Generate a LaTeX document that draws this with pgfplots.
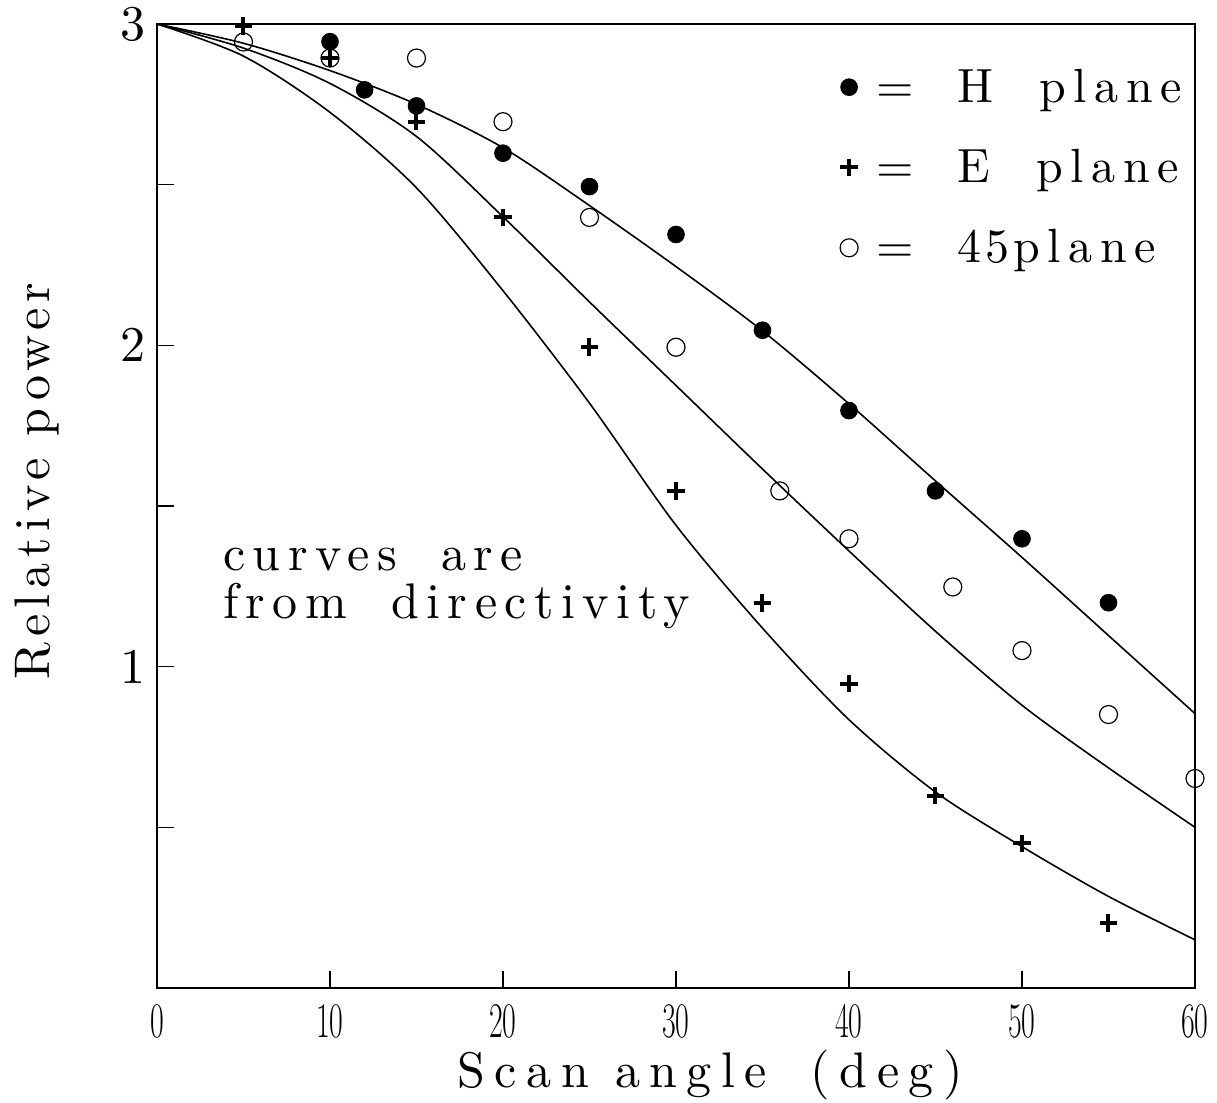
\documentclass[border=0pt]{standalone}
\usepackage{fontspec}
\setmainfont{lmroman10-regular.otf}[BoldFont=lmroman10-bold.otf, ItalicFont=lmroman10-italic.otf]
\usepackage{graphicx}
\usepackage{pgfplots}
\pgfplotsset{compat=1.18}
\newcommand{\bigf}{\fontsize{25}{30}\selectfont}
\begin{document}
\begin{tikzpicture}
\useasboundingbox (-78.5pt,-57.5pt) rectangle (530pt,494pt);
\begin{axis}[
  scale only axis, width=519pt, height=482pt,
  xmin=0, xmax=60, ymin=0, ymax=3,
  clip=false,
  axis line style={line width=0.8pt},
  xtick={0,10,...,60}, ytick={0,0.5,...,3},
  yticklabels={,,1,,2,,3},
  xtick pos=bottom, ytick pos=left, tick align=inside,
  major tick length=8.5pt, tick style={line width=0.8pt, black},
  xticklabel={\scalebox{0.6}[1]{\pgfmathprintnumber{\tick}}},
  xticklabel style={font=\bigf, anchor=north, inner sep=0pt, yshift=-8.5pt},
  yticklabel style={font=\bigf, anchor=east, inner sep=0pt, xshift=-5.5pt},
  xlabel={\addfontfeature{LetterSpace=19}Scan angle\hspace{22pt}(deg)},
  ylabel={\addfontfeature{LetterSpace=12}Relative power},
  xlabel style={font=\bigf, at={(rel axis cs:0.533,-0.0902)}, anchor=center},
  ylabel style={font=\bigf, at={(rel axis cs:-0.1156,0.526)}, anchor=center},
  legend style={draw=none, fill=none, at={(rel axis cs:0.9977,0.962)}, anchor=north east,
    font=\fontsize{24}{28}\selectfont\addfontfeature{LetterSpace=16},
    row sep=18pt, legend cell align=left},
]
\addplot[only marks, mark=*, mark size=4.2pt, mark options={fill=black, draw=black}]
  coordinates {(10,2.945)(12,2.795)(15,2.745)(20,2.598)(25,2.494)(30,2.345)(35,2.047)(40,1.797)(45,1.547)(50,1.398)(55,1.199)};
\addlegendentry{\hspace{7pt}=\hspace{22pt}H\hspace{23pt}plane}
\addplot[only marks, mark=+, mark size=4.4pt, mark options={line width=2pt, draw=black}]
  coordinates {(5,2.994)(10,2.894)(15,2.696)(20,2.398)(25,1.994)(30,1.547)(35,1.199)(40,0.947)(45,0.599)(50,0.450)(55,0.202)};
\addlegendentry{\hspace{7pt}=\hspace{22pt}E\hspace{23pt}plane}
\addplot[only marks, mark=o, mark size=4.5pt, mark options={line width=0.6pt, draw=black}]
  coordinates {(5,2.944)(10,2.894)(15,2.894)(20,2.696)(25,2.398)(30,1.994)(36,1.547)(40,1.398)(46,1.248)(50,1.05)(55,0.851)(60,0.652)};
\addlegendentry{\hspace{7pt}=\hspace{22pt}4\hspace{2pt}5\hspace{2pt}plane}
\addplot[black, line width=0.8pt, smooth, forget plot]
  coordinates {(0,3.0)(5,2.94)(10,2.855)(15,2.75)(20,2.615)(25,2.435)(30,2.245)(35,2.045)(40,1.818)(45,1.578)(50,1.34)(55,1.097)(60,0.854)};
\addplot[black, line width=0.8pt, smooth, forget plot]
  coordinates {(0,3.0)(5,2.925)(10,2.815)(15,2.65)(20,2.40)(25,2.135)(30,1.875)(35,1.615)(40,1.36)(45,1.11)(50,0.88)(55,0.685)(60,0.50)};
\addplot[black, line width=0.8pt, smooth, forget plot]
  coordinates {(0,3.0)(5,2.90)(10,2.725)(15,2.49)(20,2.17)(25,1.82)(30,1.44)(35,1.12)(40,0.835)(45,0.61)(50,0.44)(55,0.285)(60,0.15)};
\node[anchor=base west, font=\bigf, inner sep=0pt] at (axis cs:3.8,1.298) {\addfontfeature{LetterSpace=15}curves\hspace{10pt} are};
\node[anchor=base west, font=\bigf, inner sep=0pt] at (axis cs:3.8,1.149) {\addfontfeature{LetterSpace=15}from\hspace{10pt} directivity};
\end{axis}
\end{tikzpicture}
\end{document}
